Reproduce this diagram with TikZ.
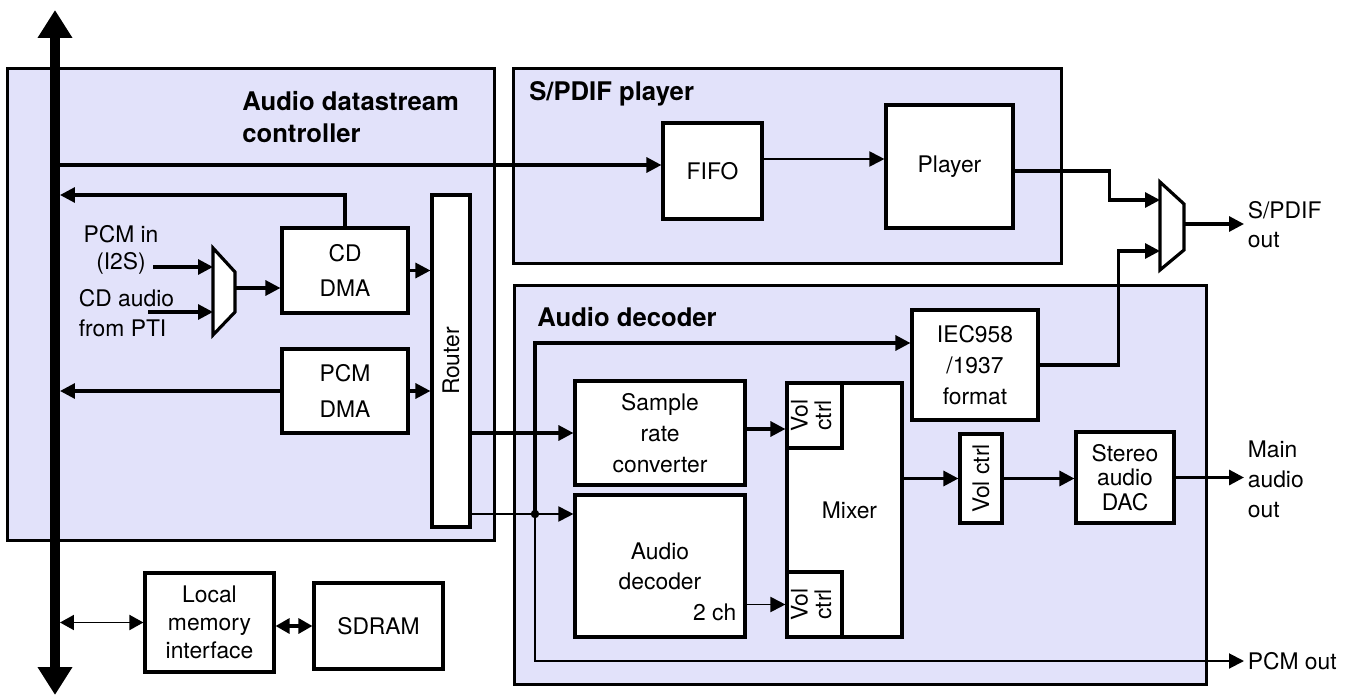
\documentclass[tikz,border=0pt]{standalone}
\usepackage{fontspec}
\setmainfont{TeX Gyre Heros}
\usetikzlibrary{arrows.meta}
\definecolor{lav}{RGB}{226,226,250}

\begin{document}
\begin{tikzpicture}[
  x=0.02cm, y=-0.02cm,
  font=\fontsize{13pt}{17pt}\selectfont,
  grp/.style={draw, fill=lav, line width=1.7pt, inner sep=0pt},
  blk/.style={draw, fill=white, line width=1.8pt, align=center, inner sep=0pt},
  ttl/.style={font=\fontsize{14.6pt}{18pt}\selectfont\bfseries, align=left,
              anchor=north west, inner sep=0pt},
  lbl/.style={anchor=west, inner sep=2pt},
  arr/.style={-{Triangle[length=3mm, width=3mm]}, line width=1.8pt},
  tarr/.style={arr, line width=1.1pt},
  darr/.style={{Triangle[length=2.8mm, width=3mm]}-{Triangle[length=2.8mm, width=3mm]}},
  tobus/.style={shorten >=1mm},
  mux/.style={draw, fill=white, line width=1.8pt, line join=miter},
  bus/.style={line width=2mm,
              {Triangle[length=5.6mm, width=6.6mm]}-{Triangle[length=5.6mm, width=6.6mm]}},
]
\useasboundingbox (0,0) rectangle (1356,696);

% groups
\node[grp, minimum width=9.76cm, minimum height=9.46cm] (adc) at (251,304.5) {};
\node[grp, minimum width=10.98cm, minimum height=3.92cm] (spdif) at (787.5,166) {};
\node[grp, minimum width=13.86cm, minimum height=8cm] (adec) at (860.5,485) {};
\node[ttl] (adcttl) at (242,91) {Audio datastream\\controller};
\node[ttl] (spdifttl) at (529,81) {S/PDIF player};
\node[ttl] (adecttl) at (537,307) {Audio decoder};

% blocks
\node[blk, minimum width=1.98cm, minimum height=1.92cm] (fifo) at (712.5,171) {FIFO};
\node[blk, minimum width=2.54cm, minimum height=2.46cm] (player) at (949.5,166.5) {Player};
\node[blk, minimum width=2.52cm, minimum height=1.70cm] (cddma) at (345,270.5) {CD\\[3pt]DMA};
\node[blk, minimum width=2.52cm, minimum height=1.68cm] (pcmdma) at (345,391) {PCM\\[3pt]DMA};
\node[blk, minimum width=0.76cm, minimum height=6.64cm] (router) at (451,361) {\rotatebox{90}{Router}};
\node[blk, minimum width=2.58cm, minimum height=1.98cm,
      font=\fontsize{13pt}{16pt}\selectfont] (lmi) at (209.5,622.5) {Local\\memory\\interface};
\node[blk, minimum width=2.58cm, minimum height=1.72cm] (sdram) at (378.5,626) {SDRAM};
\node[blk, minimum width=2.52cm, minimum height=2.20cm,
      font=\fontsize{13pt}{17.5pt}\selectfont] (iec) at (975,365) {IEC958\\/1937\\format};
\node[blk, minimum width=3.40cm, minimum height=2.08cm,
      font=\fontsize{13pt}{17.5pt}\selectfont] (src) at (660,433) {Sample\\rate\\converter};
\node[blk, minimum width=3.40cm, minimum height=2.84cm,
      label={[anchor=south east, inner sep=0pt, xshift=-2mm, yshift=3.4mm]south east:2 ch}]
      (adcore) at (660,566) {Audio\\decoder};
\node[blk, minimum width=2.30cm, minimum height=5.08cm] (mixer) at (844.5,510) {\hspace*{2mm}Mixer};
\node[blk, minimum width=1.10cm, minimum height=1.30cm, font=\fontsize{13pt}{13pt}\selectfont]
      (volA) at (814.5,415.5) {\rotatebox{90}{\begin{tabular}{@{}c@{}}Vol\\ctrl\end{tabular}}};
\node[blk, minimum width=1.10cm, minimum height=1.30cm, font=\fontsize{13pt}{13pt}\selectfont]
      (volB) at (814.5,604.5) {\rotatebox{90}{\begin{tabular}{@{}c@{}}Vol\\ctrl\end{tabular}}};
\node[blk, minimum width=0.84cm, minimum height=1.78cm] (volC) at (981,478.5) {\rotatebox{90}{Vol ctrl}};
\node[blk, minimum width=1.96cm, minimum height=1.82cm,
      font=\fontsize{13pt}{14pt}\selectfont] (dac) at (1125,477.5) {Stereo\\audio\\DAC};

% outside labels
\node[align=center, inner sep=0pt, font=\fontsize{13pt}{15.5pt}\selectfont] (pcmin) at (121,250) {PCM in\\(I2S)};
\node[lbl, align=left] (cdin) at (75,313) {CD audio\\from PTI};
\node[lbl, align=left, font=\fontsize{13pt}{16.5pt}\selectfont] (spdifout) at (1244,225) {S/PDIF\\out};
\node[lbl, align=left] (mainout) at (1244,479) {Main\\audio\\out};
\node[lbl] (pcmout) at (1244,661) {PCM out};

% muxes
\coordinate (m1a) at (213,267);
\coordinate (m1b) at (213,312);
\coordinate (m1o) at (235,288);
\draw[mux] (213,248) -- (235,272) -- (235,312) -- (213,335) -- cycle;
\coordinate (m2a) at (1160,200);
\coordinate (m2b) at (1160,251);
\coordinate (m2o) at (1184,224);
\draw[mux] (1160,182) -- (1184,204) -- (1184,250) -- (1160,270) -- cycle;

\coordinate (pcmsrc) at (153,267);
\coordinate (cdsrc) at (148,312);
\coordinate (jn) at (535,514);
\coordinate (busN) at (55,10);
\coordinate (busS) at (55,695);

% S/PDIF path
\draw[arr] (busN |- 0,165) -- (fifo.west |- 0,165);
\draw[tarr] (fifo.east |- 0,159) -- (player.west |- 0,159);
\draw[arr] (player.east |- 0,171) -- ++(95,0) |- (m2a);
\draw[arr] (iec.east) -- ++(79,0) |- (m2b);
\draw[arr] (m2o) -- (spdifout.west |- m2o);

% datastream controller
\draw[arr, tobus] (cddma.north) |- (busN |- 0,195);
\draw[arr] (pcmsrc) -- (m1a);
\draw[arr] (cdsrc) -- (m1b);
\draw[arr] (m1o) -- (cddma.west |- m1o);
\draw[arr] (cddma.east) -- (router.west |- cddma.east);
\draw[arr, tobus] (pcmdma.west) -- (busN |- pcmdma.west);
\draw[arr] (pcmdma.east) -- (router.west |- pcmdma.east);
\draw[arr] (router.east |- src.west) -- (src.west);
\draw[tarr] (router.east |- jn) -- (adcore.west |- jn);
\draw[darr, line width=1.1pt, shorten <=1mm] (busN |- lmi.west) -- (lmi.west);
\draw[darr, line width=1.8pt] (lmi.east |- sdram.west) -- (sdram.west);

% decoder
\draw[arr] (jn) |- (iec.west |- 0,343);
\draw[tarr] (jn) |- (pcmout.west);
\fill (jn) circle (0.85mm);
\draw[arr] (src.east |- 0,429) -- (volA.west |- 0,429);
\draw[tarr] (adcore.east |- volB.west) -- (volB.west);
\draw[arr] (mixer.east |- volC.west) -- (volC.west);
\draw[arr] (volC.east) -- (dac.west |- volC.east);
\draw[arr] (dac.east) -- (mainout.west |- dac.east);

% system bus
\draw[bus] (busS) -- (busN);
\end{tikzpicture}
\end{document}
